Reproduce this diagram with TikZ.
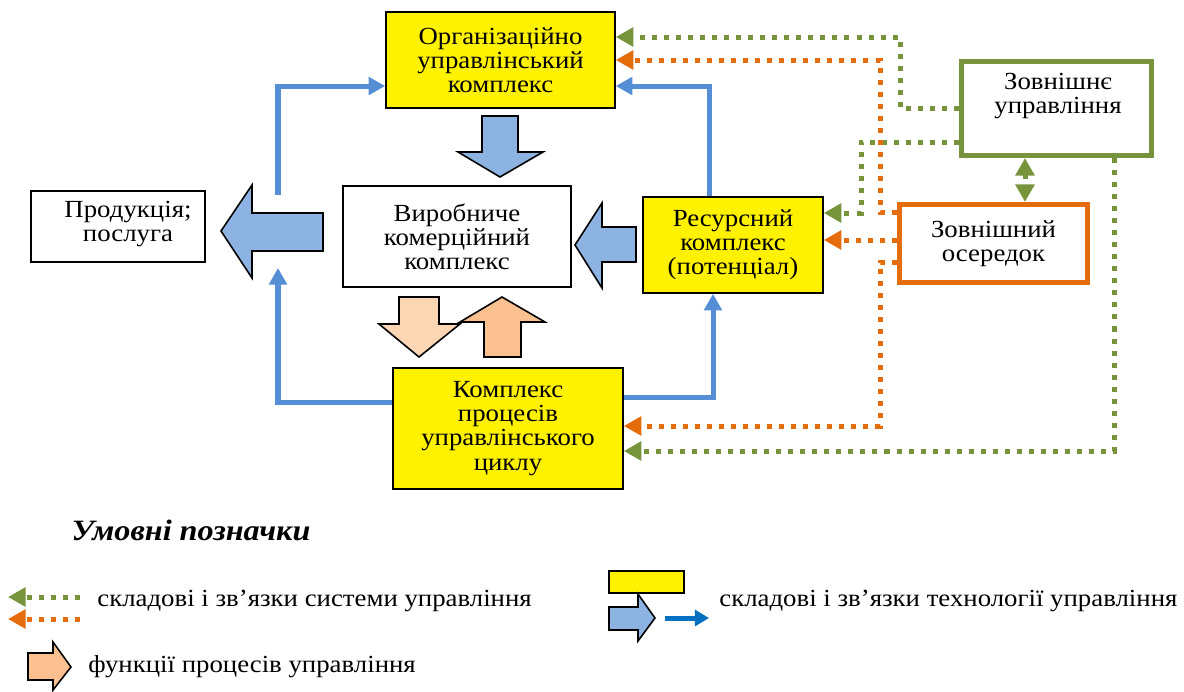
\documentclass[tikz,border=0pt]{standalone}
\usepackage{fontspec}
\setmainfont[FakeStretch = 1.09]{Liberation Serif}
\usetikzlibrary{arrows.meta, positioning}

\definecolor{olivegr}{RGB}{119,147,60}
\definecolor{orng}{RGB}{228,108,10}
\definecolor{linkblue}{RGB}{85,142,213}
\definecolor{arrowblue}{RGB}{141,179,226}
\definecolor{peachlt}{RGB}{252,213,181}
\definecolor{peachdk}{RGB}{250,192,144}
\definecolor{legblue}{RGB}{0,112,192}

\begin{document}
\begin{tikzpicture}[
    x = 0.02cm, y = -0.02cm,
    every node/.style = {font = \fontsize{14}{13.7}\selectfont, align = center, inner sep = 0pt},
    yellowbox/.style = {draw, line width = 0.9pt, fill = yellow},
    whitebox/.style = {draw, line width = 0.9pt, fill = white},
    bline/.style = {draw = linkblue, line width = 2.85pt, -{Triangle[length = 9.5pt, width = 10pt]}},
    dotline/.style = {line width = 2.85pt, dash pattern = on 2.85pt off 4pt,
                      -{Triangle[length = 10pt, width = 10.5pt]}},
    gdot/.style = {dotline, draw = olivegr},
    odot/.style = {dotline, draw = orng},
    blockarrow/.style = {draw, line width = 0.9pt, line join = miter}
  ]
  \useasboundingbox (0,0) rectangle (1184,691);

  % boxes
  \node [yellowbox, minimum width = 4.58cm, minimum height = 1.92cm] (org) at (500.5,60)
    {Організаційно\\ управлінський\\ комплекс};
  \node [whitebox, minimum width = 4.56cm, minimum height = 2.02cm] (vyr) at (457,236.5)
    {Виробниче\\ комерційний\\ комплекс};
  \node [yellowbox, minimum width = 3.6cm, minimum height = 1.92cm] (res) at (733,245)
    {Ресурсний\\ комплекс\\ (потенціал)};
  \node [yellowbox, minimum width = 4.6cm, minimum height = 2.42cm] (kpu) at (508,428.5)
    {Комплекс\\ процесів\\ управлінського\\ циклу};
  \node [whitebox, minimum width = 3.48cm, minimum height = 1.42cm] (prod) at (118,226.5) {};
  \node (prodtxt) at (128,224) {Продукція;\\ послуга};
  \node [draw = olivegr, line width = 2.85pt, minimum width = 3.8cm, minimum height = 1.88cm]
    (zu) at (1056.5,108.5) {};
  \node (zutxt) at (1058,96) {Зовнішнє\\ управління};
  \node [draw = orng, line width = 2.85pt, minimum width = 3.76cm, minimum height = 1.56cm]
    (zo) at (993.5,243.5) {Зовнішний\\ осередок};

  % block arrows
  \path [blockarrow, fill = arrowblue] (221,231) -- (252,185) -- (252,213) -- (323,213)
    -- (323,251) -- (252,251) -- (252,278) -- cycle;
  \path [blockarrow, fill = arrowblue] (482,116) -- (518,116) -- (518,152) -- (543,152)
    -- (500,177) -- (458,152) -- (482,152) -- cycle;
  \path [blockarrow, fill = arrowblue] (575,245) -- (602,203) -- (602,227) -- (636,227)
    -- (636,262) -- (602,262) -- (602,288) -- cycle;
  \path [blockarrow, fill = peachlt] (399,297) -- (439,297) -- (439,324) -- (460,324)
    -- (419,357) -- (379,324) -- (399,324) -- cycle;
  \path [blockarrow, fill = peachdk] (484,357) -- (521,357) -- (521,322) -- (545,322)
    -- (502,297) -- (460,322) -- (484,322) -- cycle;

  % technology links
  \coordinate (lfree) at (278,195);
  \coordinate (lup)   at (278,268);
  \draw [bline] (res.north -| 709,0) |- (org.east |- 0,86);
  \draw [bline] (lfree) |- (org.west |- 0,86);
  \draw [bline] (kpu.west |- 0,402) -| (lup);
  \draw [bline] (kpu.east |- 0,397) -| (res.south -| 713,0);

  % system links
  \draw [gdot] (zu.west |- 0,108) -| (900,37) -- (org.east |- 0,37);
  \draw [gdot] (zu.west |- 0,142) -| (861,213) -- (res.east |- 0,213);
  \draw [gdot] (zu.south -| 1114,0) |- (kpu.east |- 0,451);
  \draw [gdot, {Triangle[length = 10pt, width = 10.5pt]}-{Triangle[length = 10pt, width = 10.5pt]}]
    (zu.south -| 1025,0) -- (zo.north -| 1025,0);
  \draw [odot] (zo.west |- 0,212) -| (880,60) -- (org.east |- 0,60);
  \draw [odot] (zo.west |- 0,240) -- (res.east |- 0,240);
  \draw [odot] (zo.west |- 0,262) -| (880,426) -- (kpu.east |- 0,426);

  % legend
  \node [font = \fontsize{16.8}{18}\selectfont\bfseries\itshape] (legtitle) at (191,530)
    {Умовні позначки};
  \coordinate (lgs) at (80,597);  \coordinate (lge) at (8,597);
  \coordinate (los) at (80,619);  \coordinate (loe) at (8,619);
  \draw [gdot] (lgs) -- (lge);
  \draw [odot] (los) -- (loe);
  \node [anchor = west] (leg1) at (97,601) {складові і зв’язки системи управління};

  \path [blockarrow, fill = peachdk] (28,653) -- (53,653) -- (53,642) -- (71,667)
    -- (53,690) -- (53,680) -- (28,680) -- cycle;
  \node [anchor = west] (leg2) at (88,667) {функції процесів управління};

  \node [yellowbox, minimum width = 1.5cm, minimum height = 0.44cm] (legbox) at (646.5,582) {};
  \path [blockarrow, fill = arrowblue] (609,607) -- (638,607) -- (638,594) -- (655,618)
    -- (638,641) -- (638,630) -- (609,630) -- cycle;
  \coordinate (lbs) at (665,618);  \coordinate (lbe) at (709,618);
  \draw [legblue, line width = 2.85pt, -{Triangle[length = 8pt, width = 9pt]}] (lbs) -- (lbe);
  \node [anchor = west] (leg3) at (719,601) {складові і зв’язки технології управління};
\end{tikzpicture}
\end{document}
